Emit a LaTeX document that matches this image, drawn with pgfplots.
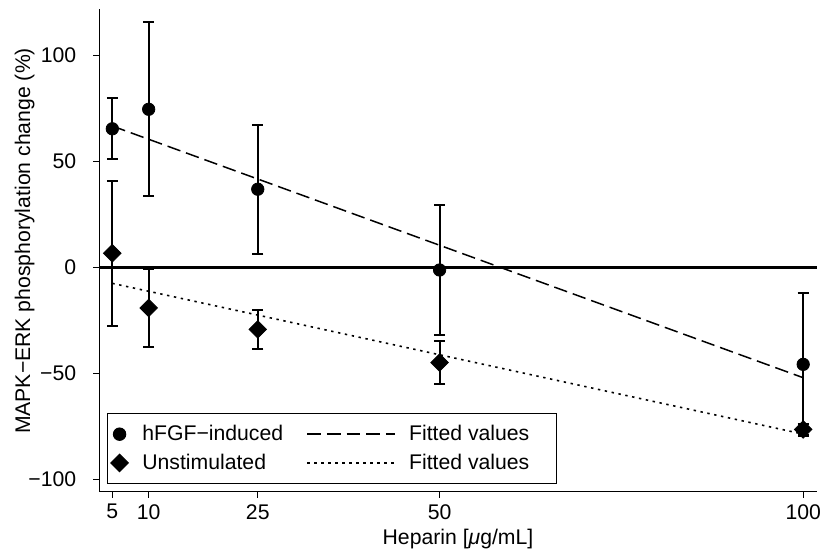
\documentclass[border=0pt]{standalone}
\usepackage{fontspec}
\setmainfont{Liberation Sans}
\usepackage{pgfplots}
\pgfplotsset{compat=1.18}
\pgfplotsset{
  markleg/.style={legend image code/.code={\draw[##1] plot coordinates {(0pt,0pt)};}},
  lineleg/.style={legend image code/.code={\draw[##1] (0pt,0pt) -- (44pt,0pt);}},
}

\begin{document}
\fontsize{10.6}{12.7}\selectfont
\begin{tikzpicture}
\path[use as bounding box] (0,0) rectangle (411.5pt,275pt);
\begin{axis}[
  at={(49.5pt,29pt)}, anchor=south west,
  scale only axis, width=359pt, height=241.5pt,
  xmin=3.17, xmax=101.9, ymin=-106.1, ymax=121.7,
  clip=false,
  axis x line*=bottom, axis y line*=left,
  axis line style={line width=0.5pt},
  tick align=outside, major tick length=3pt,
  tick style={black, line width=0.5pt},
  xtick={5,10,25,50,100},
  xticklabels={5,10,25,50,100},
  ytick={-100,-50,0,50,100},
  yticklabels={−100,−50,0,50,100},
  ticklabel style={font=\fontsize{10.6}{12.7}\selectfont, inner sep=0pt},
  xticklabel style={anchor=north},
  yticklabel style={anchor=east},
  xticklabel shift=3pt,
  yticklabel shift=8.2pt,
  legend columns=2,
  legend cell align=left,
  legend style={at={(rel axis cs:0.01156,0.0172)}, anchor=south west,
    draw=black, line width=0.5pt, inner xsep=1.5pt, inner ysep=5.5pt,
    font=\fontsize{10.6}{12.7}\selectfont,
    row sep=5.1pt, nodes={inner sep=0pt},
    /tikz/column 1/.style={column sep=7pt},
    /tikz/column 2/.style={column sep=11.7pt},
    /tikz/column 3/.style={column sep=6.5pt}},
]
% zero line
\addplot[black, line width=1.5pt, forget plot] coordinates {(3.17,0) (101.9,0)};

\addplot[only marks, mark=*, mark size=3.1pt, black, markleg,
  error bars/.cd, y dir=both, y explicit,
  error bar style={line width=1pt},
  error mark options={rotate=90, mark size=2.75pt, line width=1pt}]
coordinates {
  (5,65.2)   +- (0,14.4)
  (10,74.4)  +- (0,41.0)
  (25,36.7)  +- (0,30.5)
  (50,-1.4)  +- (0,30.6)
  (100,-45.9) +- (0,33.8)
};
\addlegendentry{hFGF−induced}

\addplot[black, line width=0.75pt, dash pattern=on 6.8pt off 3pt, lineleg]
coordinates {(5,66.5) (100,-52.2)};
\addlegendentry{Fitted values\rule{12pt}{0pt}}

\addplot[only marks, mark=square*, mark options={rotate=45}, mark size=3.1pt, black, markleg,
  error bars/.cd, y dir=both, y explicit,
  error bar style={line width=1pt},
  error mark options={rotate=90, mark size=2.75pt, line width=1pt}]
coordinates {
  (5,6.5)     +- (0,34.1)
  (10,-19.3)  +- (0,18.3)
  (25,-29.4)  +- (0,9.2)
  (50,-45.05) +- (0,10.15)
  (100,-76.6) +- (0,2.5)
};
\addlegendentry{Unstimulated}

\addplot[black, line width=0.8pt, dash pattern=on 1.2pt off 2.3pt, lineleg]
coordinates {(5,-7.7) (100,-78.8)};
\addlegendentry{Fitted values\rule{12pt}{0pt}}

\node[anchor=base, inner sep=0pt] at (axis description cs:0.5,-0.1097)
  {Heparin [\textit{μ}g/mL]};
\node[rotate=90, anchor=base, inner sep=0pt] at (axis description cs:-0.0961,0.5197)
  {MAPK−ERK phosphorylation change (\%)};
\end{axis}
\end{tikzpicture}
\end{document}
